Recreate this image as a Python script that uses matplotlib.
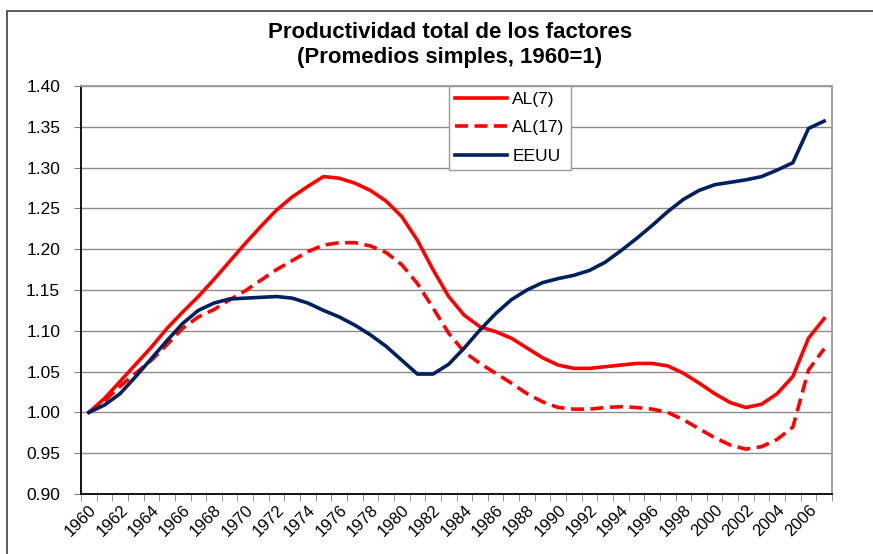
import matplotlib.pyplot as plt
import matplotlib.patches as patches
import numpy as np

plt.rcParams['font.family'] = ['Liberation Sans', 'DejaVu Sans']

years = list(range(1960, 2008))

al7 = [1.000, 1.017, 1.038, 1.059, 1.080, 1.103, 1.123, 1.142, 1.163, 1.185,
       1.207, 1.228, 1.248, 1.264, 1.277, 1.289, 1.287, 1.281, 1.272, 1.259,
       1.240, 1.211, 1.175, 1.142, 1.119, 1.105, 1.099, 1.091, 1.079, 1.067,
       1.058, 1.054, 1.054, 1.056, 1.058, 1.060, 1.060, 1.057, 1.048, 1.036,
       1.023, 1.012, 1.006, 1.010, 1.023, 1.044, 1.091, 1.115]

al17 = [1.000, 1.014, 1.032, 1.048, 1.064, 1.083, 1.103, 1.117, 1.126, 1.138,
        1.149, 1.162, 1.175, 1.186, 1.197, 1.205, 1.208, 1.208, 1.204, 1.196,
        1.181, 1.158, 1.128, 1.097, 1.074, 1.060, 1.048, 1.036, 1.023, 1.013,
        1.006, 1.004, 1.004, 1.006, 1.007, 1.006, 1.004, 1.000, 0.991, 0.980,
        0.969, 0.960, 0.955, 0.958, 0.967, 0.982, 1.052, 1.078]

eeuu = [1.000, 1.009, 1.023, 1.044, 1.066, 1.088, 1.109, 1.125, 1.134, 1.139,
        1.140, 1.141, 1.142, 1.140, 1.134, 1.125, 1.117, 1.107, 1.095, 1.081,
        1.064, 1.047, 1.047, 1.059, 1.079, 1.101, 1.121, 1.138, 1.150, 1.159,
        1.164, 1.168, 1.174, 1.184, 1.198, 1.213, 1.229, 1.246, 1.261, 1.272,
        1.279, 1.282, 1.285, 1.289, 1.297, 1.306, 1.348, 1.357]

fig = plt.figure(figsize=(8.73, 5.54), dpi=100)
ax = fig.add_axes([81/873, 1 - 494/554, (832 - 81)/873, (494 - 86)/554])

# outer chart border (left and top only visible)
fig.add_artist(patches.Rectangle((7/873, -0.1), 1.2, 1 - 11/554 + 0.1,
                                 transform=fig.transFigure, fill=False,
                                 edgecolor='#404040', linewidth=1.2))

x = np.arange(len(years))
ax.plot(x, al7, color='#ff0000', lw=2.6, label='AL(7)', solid_joinstyle='round')
ax.plot(x, al17, color='#ff0000', lw=2.6, ls=(0, (3.6, 1.8)), label='AL(17)')
ax.plot(x, eeuu, color='#002060', lw=2.6, label='EEUU', solid_joinstyle='round')

ax.set_xlim(-0.5, len(years) - 0.5)
ax.set_ylim(0.90, 1.40)
ax.set_yticks(np.arange(0.90, 1.401, 0.05))
ax.set_yticklabels(['%.2f' % v for v in np.arange(0.90, 1.401, 0.05)])
ax.yaxis.grid(True, color='#8c8c8c', lw=1)
ax.set_axisbelow(True)

ax.set_xticks(x[::2])
ax.set_xticklabels([str(y) for y in years[::2]], rotation=45,
                   ha='right', va='top', rotation_mode='anchor')
ax.set_xticks(np.arange(-0.5, len(years), 1), minor=True)
ax.tick_params(axis='x', which='major', length=0, pad=6, labelsize=12)
ax.tick_params(axis='x', which='minor', length=5, color='#808080')
ax.tick_params(axis='y', length=5, color='#808080', labelsize=12.5, pad=10)

for s in ['left', 'bottom']:
    ax.spines[s].set_color('black')
    ax.spines[s].set_linewidth(1.3)
for s in ['top', 'right']:
    ax.spines[s].set_color('#9a9a9a')
    ax.spines[s].set_linewidth(1.3)

leg = ax.legend(loc='upper left', bbox_to_anchor=((449 - 81)/751, 1.0),
                fontsize=12.5, frameon=True, fancybox=False, framealpha=1,
                edgecolor='#9a9a9a', handlelength=3.0, borderpad=0.35,
                labelspacing=0.75, handletextpad=0.3, borderaxespad=0)
leg.get_frame().set_linewidth(1.0)

fig.text(450/873, 1 - 33/554, 'Productividad total de los factores',
         ha='center', va='center', fontsize=16, fontweight='bold')
fig.text(450/873, 1 - 58/554, '(Promedios simples, 1960=1)',
         ha='center', va='center', fontsize=16, fontweight='bold')

fig.savefig('out.png', dpi=100)
